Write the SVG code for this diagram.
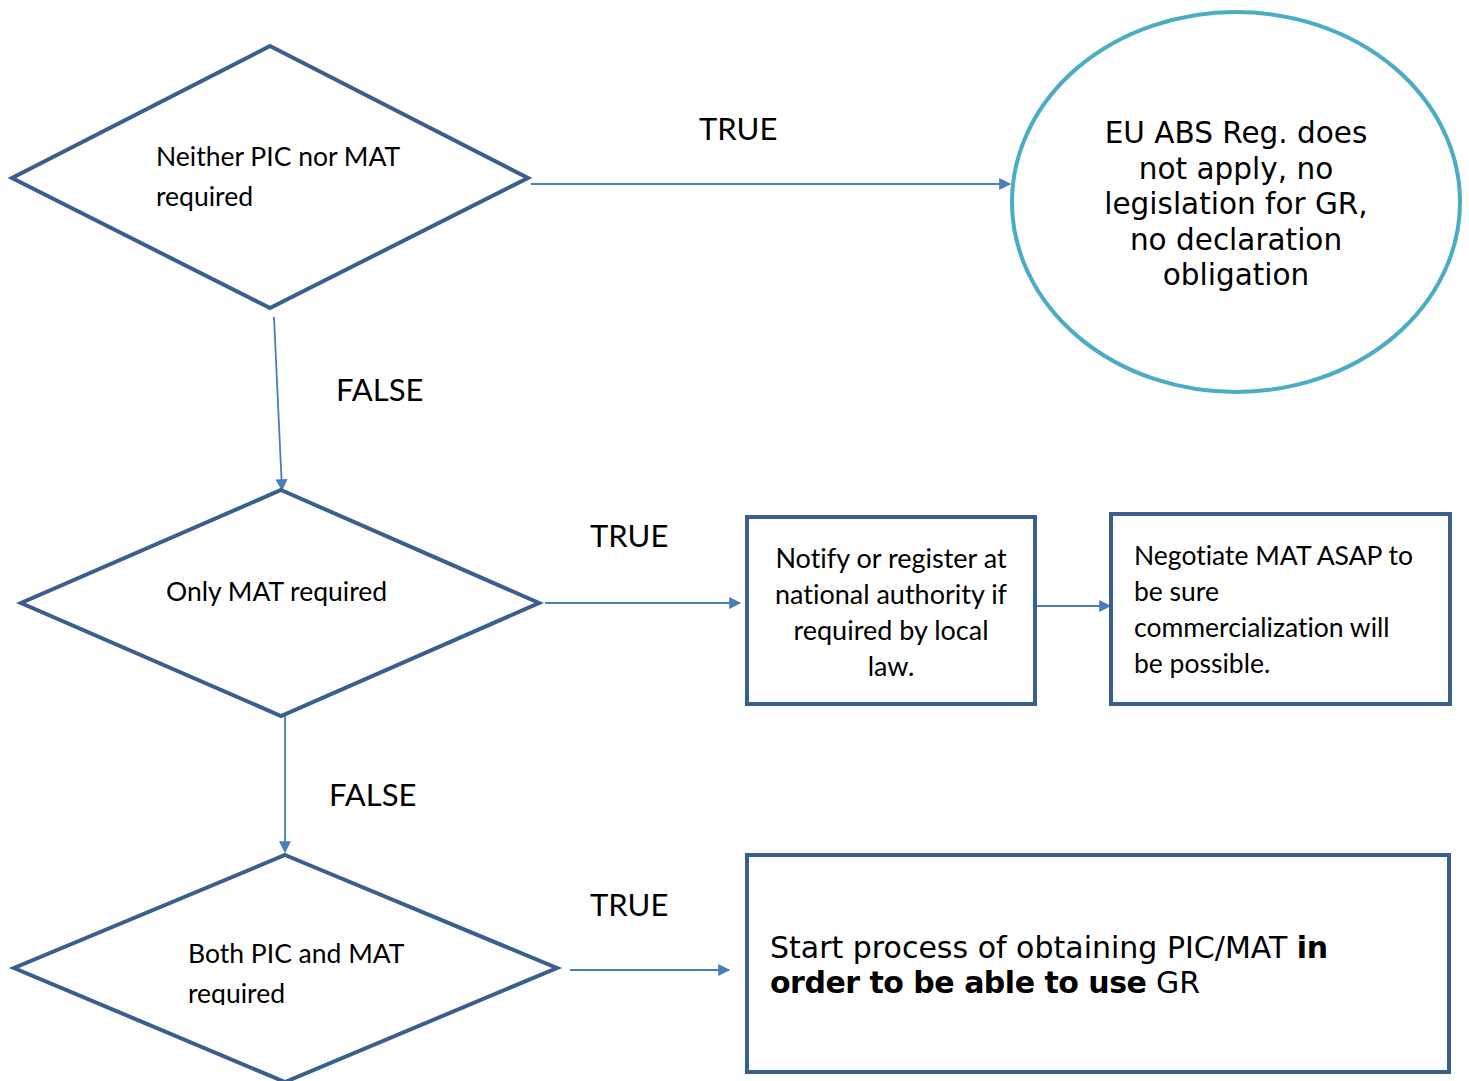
<svg xmlns="http://www.w3.org/2000/svg" width="1469" height="1081" viewBox="0 0 1469 1081">
<style>
.shape{fill:#fff;stroke:#3b5e8c;stroke-width:4;stroke-linejoin:miter}
.oval{fill:#fff;stroke:#4bacc6;stroke-width:4}
.conn{fill:none;stroke:#4a7ebb;stroke-width:1.8}
.cal{font-family:Lato,"Open Sans",sans-serif;fill:#000;font-variant-ligatures:none}
.ver{font-family:"DejaVu Sans",Verdana,sans-serif;fill:#000}
.lbl{font-family:Lato,"Open Sans",sans-serif;font-size:31px;fill:#000}
.b{font-weight:bold;letter-spacing:-0.5px}
</style>
<defs>
<marker id="arr" viewBox="0 0 10 10" refX="9" refY="5" markerWidth="13" markerHeight="12" markerUnits="userSpaceOnUse" orient="auto">
<path d="M0,0 L10,5 L0,10 z" fill="#4a7ebb"/>
</marker>
<clipPath id="clipBottom"><rect x="0" y="0" width="1469" height="1005"/></clipPath>
</defs>

<g id="connectors">
<line class="conn" x1="531" y1="184" x2="1010" y2="184" marker-end="url(#arr)"/>
<line class="conn" x1="274" y1="317" x2="282" y2="490" marker-end="url(#arr)"/>
<line class="conn" x1="545" y1="603" x2="740" y2="603" marker-end="url(#arr)"/>
<line class="conn" x1="1037" y1="606" x2="1110" y2="606" marker-end="url(#arr)"/>
<line class="conn" x1="285" y1="716" x2="285" y2="852" marker-end="url(#arr)"/>
<line class="conn" x1="570" y1="970" x2="729" y2="970" marker-end="url(#arr)"/>
<text class="lbl" x="699" y="140">TRUE</text>
<text class="lbl" x="336" y="401">FALSE</text>
<text class="lbl" x="590" y="547">TRUE</text>
<text class="lbl" x="329" y="806">FALSE</text>
<text class="lbl" x="590" y="916">TRUE</text>
</g>

<g id="node-neither">
<polygon class="shape" points="270,46 528,178 270,308 12,178"/>
<text class="cal" font-size="26.5" x="156" y="166">Neither PIC nor MAT</text>
<text class="cal" font-size="26.5" x="156" y="206">required</text>
</g>

<g id="node-eu">
<ellipse class="oval" cx="1236" cy="202" rx="224" ry="190"/>
<g class="ver" font-size="29.5" text-anchor="middle">
<text x="1236" y="143">EU ABS Reg. does</text>
<text x="1236" y="179">not apply, no</text>
<text x="1236" y="214">legislation for GR,</text>
<text x="1236" y="250">no declaration</text>
<text x="1236" y="285">obligation</text>
</g>
</g>

<g id="node-onlymat">
<polygon class="shape" points="281,490 539,603 281,716 21,603"/>
<text class="cal" font-size="26.5" x="166" y="601">Only MAT required</text>
</g>

<g id="node-notify">
<rect class="shape" x="747" y="517" width="288" height="187"/>
<g class="cal" font-size="27" text-anchor="middle">
<text x="891" y="568">Notify or register at</text>
<text x="891" y="604">national authority if</text>
<text x="891" y="640">required by local</text>
<text x="891" y="676">law.</text>
</g>
</g>

<g id="node-negotiate">
<rect class="shape" x="1111" y="514" width="339" height="190"/>
<g class="cal" font-size="26.5">
<text x="1134" y="565">Negotiate MAT ASAP to</text>
<text x="1134" y="601">be sure</text>
<text x="1134" y="637">commercialization will</text>
<text x="1134" y="673">be possible.</text>
</g>
</g>

<g id="node-both">
<polygon class="shape" points="285,855 557,968 285,1082 14,968"/>
<g clip-path="url(#clipBottom)">
<text class="cal" font-size="26.5" x="188" y="963">Both PIC and MAT</text>
<text class="cal" font-size="26.5" x="188" y="1003">required</text>
</g>
</g>

<g id="node-start">
<rect class="shape" x="747" y="855" width="702" height="217"/>
<g class="ver" font-size="30">
<text x="770" y="958">Start process of obtaining PIC/MAT <tspan class="b">in</tspan></text>
<text x="770" y="993"><tspan class="b">order to be able to use</tspan> GR</text>
</g>
</g>
</svg>
